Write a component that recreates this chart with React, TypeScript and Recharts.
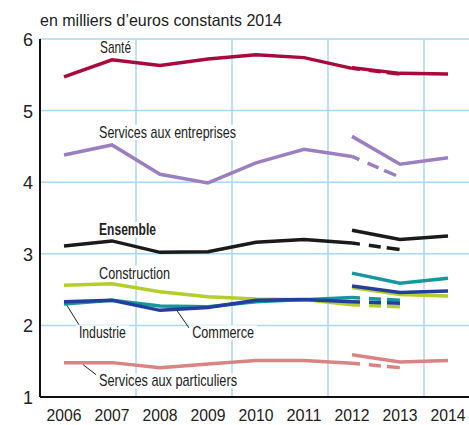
import { LineChart, Line, XAxis, YAxis, CartesianGrid, ReferenceDot, ReferenceLine } from "recharts";

const FONT = "'Liberation Sans', Arial, sans-serif";

const years = [2006, 2007, 2008, 2009, 2010, 2011, 2012, 2013, 2014];
const gridYears = [2006.5, 2007.5, 2008.5, 2009.5, 2010.5, 2011.5, 2012.5, 2013.5];
const valueTicks = [1, 2, 3, 4, 5, 6];

// old base: 2006..2012 solid, 2012..2013 dashed ; new base: 2012..2014
const santeOld = [5.47, 5.71, 5.63, 5.72, 5.78, 5.74, 5.59, 5.51];
const santeNew = [5.6, 5.52, 5.51];
const entreprisesOld = [4.38, 4.52, 4.11, 3.99, 4.27, 4.46, 4.36, 4.07];
const entreprisesNew = [4.64, 4.25, 4.34];
const ensembleOld = [3.11, 3.18, 3.02, 3.03, 3.16, 3.2, 3.15, 3.06];
const ensembleNew = [3.33, 3.2, 3.25];
const constructionOld = [2.56, 2.58, 2.47, 2.4, 2.37, 2.36, 2.29, 2.26];
const constructionNew = [2.53, 2.43, 2.41];
const industrieOld = [2.3, 2.35, 2.27, 2.26, 2.33, 2.36, 2.39, 2.35];
const industrieNew = [2.73, 2.59, 2.66];
const commerceOld = [2.33, 2.35, 2.21, 2.25, 2.35, 2.36, 2.33, 2.31];
const commerceNew = [2.55, 2.46, 2.48];
const particuliersOld = [1.48, 1.48, 1.41, 1.46, 1.51, 1.51, 1.47, 1.41];
const particuliersNew = [1.59, 1.49, 1.51];

const series = [
  { key: "particuliers", color: "#d98383", old: particuliersOld, next: particuliersNew },
  { key: "construction", color: "#b4cf2c", old: constructionOld, next: constructionNew },
  { key: "industrie", color: "#16979d", old: industrieOld, next: industrieNew },
  { key: "commerce", color: "#233f9b", old: commerceOld, next: commerceNew },
  { key: "ensemble", color: "#1a1a1a", old: ensembleOld, next: ensembleNew },
  { key: "entreprises", color: "#9b7fc1", old: entreprisesOld, next: entreprisesNew },
  { key: "sante", color: "#a80a3c", old: santeOld, next: santeNew },
];

// series labels, anchored in data units (year, value) at text baseline start
const labels = [
  { text: "Santé", x: 2006.75, y: 5.8, w: 31 },
  { text: "Services aux entreprises", x: 2006.73, y: 4.62, w: 137 },
  { text: "Ensemble", x: 2006.73, y: 3.26, w: 57, bold: true },
  { text: "Construction", x: 2006.73, y: 2.65, w: 71 },
  { text: "Industrie", x: 2006.31, y: 1.82, w: 47 },
  { text: "Commerce", x: 2008.67, y: 1.82, w: 62 },
  { text: "Services aux particuliers", x: 2006.73, y: 1.15, w: 138 },
];

const leaders = [
  [{ x: 2006.06, y: 2.28 }, { x: 2006.31, y: 2.01 }],
  [{ x: 2008.35, y: 2.21 }, { x: 2008.61, y: 1.96 }],
  [{ x: 2006.4, y: 1.45 }, { x: 2006.71, y: 1.29 }],
];

const data = years.map((year, i) => {
  const row: Record<string, number | null> = { year };
  series.forEach((s) => {
    row[`${s.key}_old`] = i <= 6 ? s.old[i] : null;
    row[`${s.key}_dash`] = i === 6 || i === 7 ? s.old[i] : null;
    row[`${s.key}_new`] = i >= 6 ? s.next[i - 6] : null;
  });
  return row;
});

function LabelText({ viewBox, text, bold, w }: any) {
  const cx = viewBox.x + viewBox.width / 2;
  const cy = viewBox.y + viewBox.height / 2;
  return (
    <g>
      <rect x={cx - 3} y={cy - 13} width={w + 6} height={15} fill="#fff" />
      <text
        x={cx}
        y={cy}
        fill="#222"
        fontSize={17}
        fontFamily={FONT}
        fontWeight={bold ? "bold" : "normal"}
        textLength={w}
        lengthAdjust="spacingAndGlyphs"
      >
        {text}
      </text>
    </g>
  );
}

function XTick({ x, y, payload }: any) {
  return (
    <text x={x} y={y + 24} textAnchor="middle" fill="#222" fontSize={17} fontFamily={FONT} textLength={35} lengthAdjust="spacingAndGlyphs">
      {payload.value}
    </text>
  );
}

function YTick({ x, y, payload }: any) {
  return (
    <text x={x} y={y + 7} textAnchor="end" fill="#222" fontSize={18} fontFamily={FONT}>
      {payload.value}
    </text>
  );
}

export default function App() {
  return (
    <div style={{ position: "absolute", left: 0, top: 0, width: 469, height: 425, overflow: "hidden", background: "#fff" }}>
      <svg width={469} height={34} style={{ position: "absolute", left: 0, top: 0 }}>
        <text x={40} y={26} fontSize={16.5} fontFamily={FONT} fill="#222" textLength={242} lengthAdjust="spacingAndGlyphs">
          en milliers d’euros constants 2014
        </text>
      </svg>
      <LineChart width={472} height={425} data={data} margin={{ top: 39, right: 0, bottom: 0, left: 0 }}>
        <XAxis xAxisId="grid" dataKey="year" type="number" domain={[2005.5, 2014.5]} ticks={gridYears} hide />
        <CartesianGrid xAxisId="grid" stroke="#a9d9f2" strokeWidth={1.5} />
        <XAxis
          dataKey="year"
          type="number"
          domain={[2005.5, 2014.5]}
          ticks={years}
          height={28}
          tickSize={0}
          tickMargin={0}
          axisLine={{ stroke: "#111", strokeWidth: 2 }}
          tick={<XTick />}
        />
        <YAxis
          type="number"
          domain={[1, 6]}
          ticks={valueTicks}
          width={40}
          tickSize={0}
          tickMargin={7}
          axisLine={{ stroke: "#111", strokeWidth: 2 }}
          tick={<YTick />}
        />
        {series.map((s) => [
          <Line key={`${s.key}_old`} dataKey={`${s.key}_old`} stroke={s.color} strokeWidth={3.5} dot={false} activeDot={false} isAnimationActive={false} />,
          <Line key={`${s.key}_dash`} dataKey={`${s.key}_dash`} stroke={s.color} strokeWidth={3.5} strokeDasharray="8 9 12 6 13" dot={false} activeDot={false} isAnimationActive={false} />,
          <Line key={`${s.key}_new`} dataKey={`${s.key}_new`} stroke={s.color} strokeWidth={3.5} dot={false} activeDot={false} isAnimationActive={false} />,
        ])}
        {labels.map((l) => (
          <ReferenceDot
            key={l.text}
            x={l.x}
            y={l.y}
            r={0}
            fill="none"
            stroke="none"
            label={(props: any) => <LabelText {...props} text={l.text} bold={l.bold} w={l.w} />}
          />
        ))}
        {leaders.map((seg, i) => (
          <ReferenceLine key={`leader-${i}`} segment={seg} stroke="#222" strokeWidth={1} />
        ))}
      </LineChart>
    </div>
  );
}
